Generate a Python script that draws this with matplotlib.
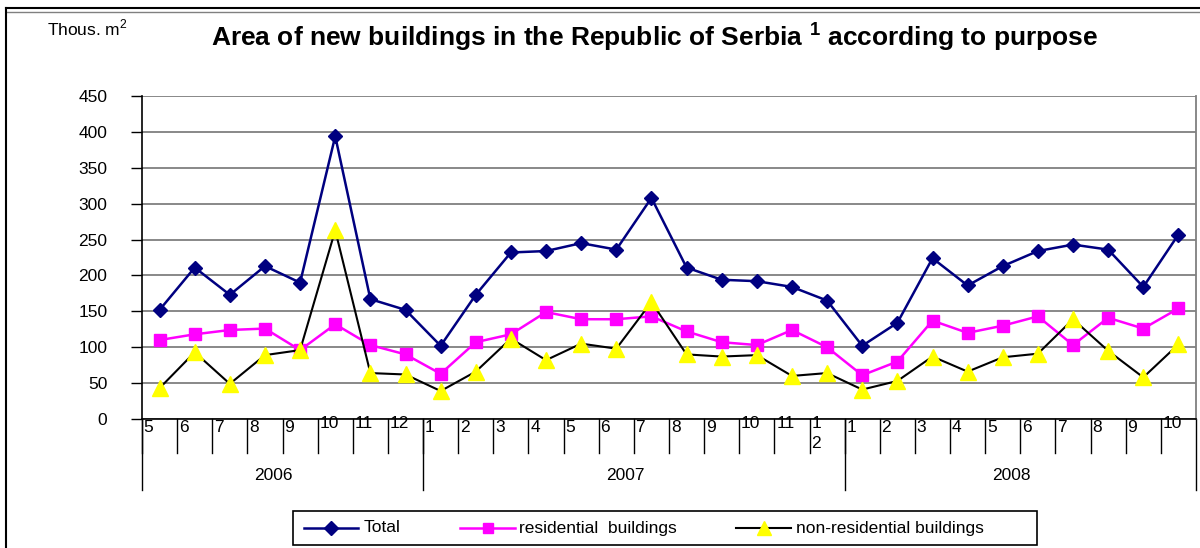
import matplotlib.pyplot as plt
from matplotlib.lines import Line2D
from matplotlib.patches import Rectangle

plt.rcParams["font.family"] = ["Liberation Sans", "DejaVu Sans"]
plt.rcParams["mathtext.fontset"] = "custom"
plt.rcParams["mathtext.rm"] = "Liberation Sans"
plt.rcParams["mathtext.bf"] = "Liberation Sans:bold"

# Mjeseci 2006-5 .. 2008-10
months = ["5", "6", "7", "8", "9", "10", "11", "12",
          "1", "2", "3", "4", "5", "6", "7", "8", "9", "10", "11", "12",
          "1", "2", "3", "4", "5", "6", "7", "8", "9", "10"]
years = ["2006", "2007", "2008"]
months_per_year = [8, 12, 10]

total = [152, 211, 173, 213, 190, 394, 167, 152,
         102, 173, 232, 234, 245, 236, 308, 211, 194, 192, 184, 165,
         102, 134, 224, 186, 213, 234, 243, 236, 184, 257]
residential = [110, 118, 124, 126, 96, 132, 103, 90,
               63, 107, 118, 149, 139, 139, 143, 122, 107, 103, 124, 100,
               61, 80, 137, 120, 130, 143, 103, 141, 126, 154]
non_residential = [43, 93, 49, 89, 96, 263, 64, 62,
                   39, 66, 112, 82, 105, 98, 163, 90, 87, 89, 60, 64,
                   41, 53, 87, 66, 86, 91, 139, 95, 58, 104]

W, H = 1200, 548
fig = plt.figure(figsize=(W / 100, H / 100), dpi=100)
ax = fig.add_axes([142 / W, 1 - 419 / H, (1196 - 142) / W, (419 - 96) / H])

styles = [
    dict(color="#000080", lw=1.8, marker="D", ms=7.5,
         label="Total", zorder=3),
    dict(color="#ff00ff", lw=1.8, marker="s", ms=8.5,
         label="residential  buildings", zorder=4),
    dict(color="black", lw=1.5, marker="^", ms=11, markerfacecolor="#ffff00",
         markeredgecolor="#ffff00", label="non-residential buildings",
         zorder=5),
]

x = list(range(len(months)))
for series, st in zip([total, residential, non_residential], styles):
    ax.plot(x, series, **st)

ax.set_xlim(-0.5, len(months) - 0.5)
ax.set_ylim(0, 450)
ax.set_yticks(range(0, 451, 50))
ax.tick_params(axis="y", direction="out", length=8, width=1, pad=17,
               labelsize=12.5)
ax.set_xticks([])
ax.grid(axis="y", color="#7f7f7f", lw=1.3)
ax.set_axisbelow(True)
ax.spines["top"].set_visible(False)
ax.spines["right"].set_color("#7f7f7f")
ax.spines["right"].set_linewidth(1.3)
ax.spines["left"].set_linewidth(1.2)
ax.spines["bottom"].set_linewidth(1.2)

# Oznake kategorija (mjeseci i godine) ispod osi
trans = ax.get_xaxis_transform()
ah = 419 - 96
for i, m in enumerate(months):
    ax.plot([i - 0.5, i - 0.5], [0, -34 / ah], color="black", lw=1,
            transform=trans, clip_on=False)
    if i == 19:
        ax.text(i - 0.45, -4 / ah, "1", transform=trans, fontsize=12.5,
                ha="left", va="center")
        ax.text(i - 0.45, -25 / ah, "2", transform=trans, fontsize=12.5,
                ha="left", va="center")
        continue
    yoff = -4 / ah if len(m) == 2 else -9 / ah
    ax.text(i - 0.45, yoff, m, transform=trans, fontsize=12.5,
            ha="left", va="center")

start = -0.5
for yr, n in zip(years, months_per_year):
    ax.plot([start, start], [0, -71 / ah], color="black", lw=1,
            transform=trans, clip_on=False)
    ax.text(start + n / 2 - 0.25, -57 / ah, yr, transform=trans,
            fontsize=12.5, ha="center", va="center")
    start += n
ax.plot([start, start], [0, -71 / ah], color="black", lw=1,
        transform=trans, clip_on=False)

# Naslov i jedinica
fig.text(655 / W, 1 - 37 / H,
         r"Area of new buildings in the Republic of Serbia $^{\mathbf{1}}$ according to purpose",
         ha="center", va="center", fontsize=19, fontweight="bold")
fig.text(47 / W, 1 - 28 / H, r"Thous. m$^{2}$", ha="left", va="center",
         fontsize=12.5)

# Okvir grafikona
fig.add_artist(Line2D([6 / W, 1], [1 - 8 / H, 1 - 8 / H], color="black",
                      lw=1.5))
fig.add_artist(Line2D([6 / W, 1], [1 - 12 / H, 1 - 12 / H], color="#808080",
                      lw=1))
fig.add_artist(Line2D([6 / W, 6 / W], [0, 1 - 8 / H], color="black", lw=1.5))

# Legenda (rucno, da se pogode pozicije)
fig.add_artist(Rectangle((293 / W, 1 - 545 / H), (1037 - 293) / W, 34 / H,
                         transform=fig.transFigure, fill=False,
                         edgecolor="black", lw=1.2))
ly = 1 - 528 / H
for (x0, x1, tx), st in zip([(304, 358, 364), (460, 515, 519),
                             (736, 791, 796)], styles):
    fig.add_artist(Line2D([x0 / W, x1 / W], [ly, ly], color=st["color"],
                          lw=st["lw"]))
    fig.add_artist(Line2D([(x0 + x1) / 2 / W], [ly], lw=0,
                          marker=st["marker"], ms=st["ms"] * 0.9,
                          markerfacecolor=st.get("markerfacecolor", st["color"]),
                          markeredgecolor=st.get("markeredgecolor", st["color"])))
    fig.text(tx / W, ly, st["label"], ha="left", va="center", fontsize=12.5)

fig.savefig("out.png", dpi=100)
